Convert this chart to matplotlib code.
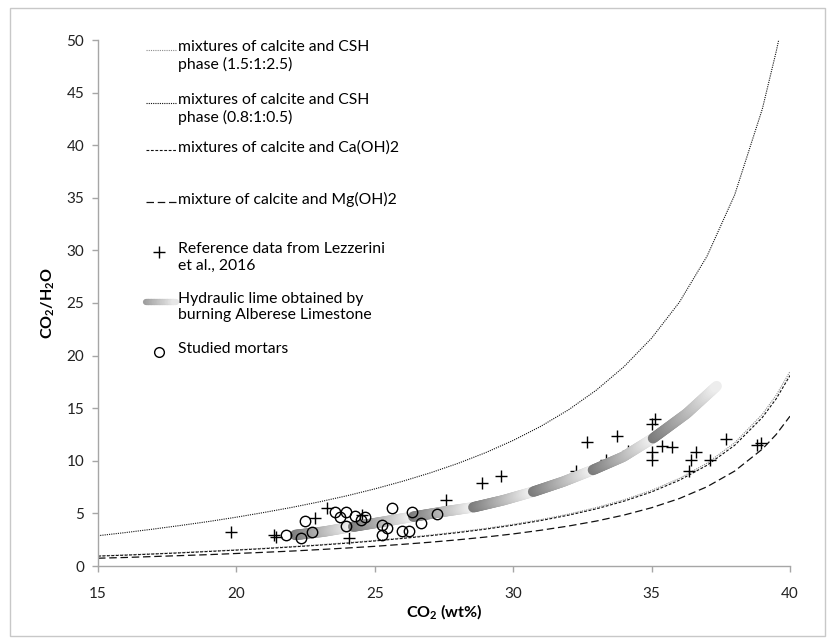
import numpy as np
import matplotlib
matplotlib.use('Agg')
import matplotlib.pyplot as plt
from matplotlib.collections import LineCollection
from matplotlib.lines import Line2D
from matplotlib.patches import Rectangle

plt.rcParams['font.family'] = ['Lato', 'DejaVu Sans']
plt.rcParams['mathtext.fontset'] = 'custom'
plt.rcParams['mathtext.rm'] = 'Lato'
plt.rcParams['mathtext.bf'] = 'Lato:bold'

# ---------------- data ----------------
mix_x = [15, 16, 17, 18, 19, 20, 21, 22, 23, 24, 25, 26, 27, 28, 29, 30,
         31, 32, 33, 34, 35, 36, 37, 38, 39, 39.5, 40]
csh15_y = [0.96, 1.06, 1.16, 1.28, 1.41, 1.54, 1.69, 1.85, 2.02, 2.22, 2.43, 2.67,
           2.94, 3.24, 3.57, 3.96, 4.41, 4.93, 5.55, 6.29, 7.19, 8.32, 9.77, 11.71,
           14.42, 16.23, 18.49]
caoh_y = [0.94, 1.03, 1.14, 1.25, 1.38, 1.51, 1.65, 1.81, 1.98, 2.17, 2.38, 2.62,
          2.88, 3.17, 3.50, 3.88, 4.32, 4.83, 5.43, 6.16, 7.04, 8.15, 9.57, 11.47,
          14.12, 15.89, 18.11]
mgoh_y = [0.74, 0.81, 0.90, 0.99, 1.08, 1.19, 1.30, 1.42, 1.56, 1.71, 1.87, 2.06,
          2.26, 2.49, 2.75, 3.05, 3.40, 3.80, 4.27, 4.84, 5.54, 6.41, 7.53, 9.02,
          11.11, 12.50, 14.24]
csh08_x = [15, 16, 17, 18, 19, 20, 21, 22, 23, 24, 25, 26, 27, 28, 29, 30,
           31, 32, 33, 34, 35, 36, 37, 38, 39, 39.5, 39.6]
csh08_y = [2.88, 3.18, 3.51, 3.86, 4.23, 4.64, 5.09, 5.57, 6.10, 6.68, 7.33, 8.05,
           8.85, 9.75, 10.77, 11.94, 13.28, 14.85, 16.71, 18.94, 21.66, 25.06,
           29.44, 35.27, 43.44, 48.89, 50.1]

ref_x = [19.8, 21.37, 21.43, 22.84, 23.28, 24.05, 24.55, 27.57, 28.86, 29.56,
         32.27, 32.65, 33.35, 33.74, 34.16, 35.0, 35.12, 35.02, 35.02, 35.36,
         35.72, 36.36, 36.44, 36.6, 37.1, 37.69, 38.8, 38.97]
ref_y = [3.2, 2.95, 2.8, 4.53, 5.5, 2.65, 4.85, 6.27, 7.92, 8.58,
         9.06, 11.82, 10.08, 12.39, 10.96, 13.5, 13.94, 10.87, 10.08, 11.4,
         11.34, 9.06, 10.08, 10.87, 10.08, 12.04, 11.5, 11.66]

lime_x = [22.12, 23.14, 24.22, 25.31, 26.39, 27.47, 28.56, 29.64, 30.72, 31.81,
          32.88, 33.98, 35.05, 36.27, 37.35]
lime_y = [2.95, 3.26, 3.74, 4.21, 4.69, 5.16, 5.58, 6.25, 7.06, 8.02,
          9.13, 10.39, 12.14, 14.5, 17.1]

mort_x = [21.79, 22.32, 22.48, 22.72, 23.56, 23.74, 23.96, 23.96, 24.28, 24.49,
          24.65, 25.25, 25.25, 25.43, 25.63, 25.97, 26.25, 26.34, 26.67, 27.26]
mort_y = [2.95, 2.63, 4.28, 3.26, 5.16, 4.63, 5.16, 3.8, 4.75, 4.37,
          4.63, 3.9, 2.95, 3.58, 5.54, 3.33, 3.33, 5.1, 4.06, 4.91]

labels = ['mixtures of calcite and CSH\nphase (1.5:1:2.5)',
          'mixtures of calcite and CSH\nphase (0.8:1:0.5)',
          'mixtures of calcite and Ca(OH)2',
          'mixture of calcite and Mg(OH)2',
          'Reference data from Lezzerini\net al., 2016',
          'Hydraulic lime obtained by\nburning Alberese Limestone',
          'Studied mortars']

x_ticks = [15, 20, 25, 30, 35, 40]
y_ticks = [0, 5, 10, 15, 20, 25, 30, 35, 40, 45, 50]

# ---------------- figure ----------------
W, H = 833, 643
fig = plt.figure(figsize=(W / 100, H / 100), dpi=100)
fig.patches.append(Rectangle((10 / W, 7 / H), 815 / W, 628 / H, transform=fig.transFigure,
                             fill=False, edgecolor='#c8c8c8', lw=1.0))
ax = fig.add_axes([98 / W, 1 - 566 / H, 692 / W, 526 / H])

ax.set_xlim(15, 40)
ax.set_ylim(0, 50)
ax.set_xticks(x_ticks)
ax.set_yticks(y_ticks)
for s in ['top', 'right']:
    ax.spines[s].set_visible(False)
for s in ['left', 'bottom']:
    ax.spines[s].set_color('#a6a6a6')
    ax.spines[s].set_linewidth(1.0)
ax.tick_params(direction='out', length=4, width=1.0, color='#a6a6a6',
               labelsize=11, labelcolor='#222222')
ax.tick_params(axis='x', pad=11)
ax.tick_params(axis='y', pad=6)

ls_csh15 = dict(color='#8c8c8c', lw=0.8, ls=(0, (1, 1)))
ls_csh08 = dict(color='#111111', lw=0.8, ls=(0, (1, 1)))
ls_caoh = dict(color='#111111', lw=0.8, ls=(0, (2.5, 1.5)))
ls_mgoh = dict(color='#111111', lw=0.9, ls=(0, (6, 3)))

ax.plot(mix_x, csh15_y, **ls_csh15, zorder=2)
ax.plot(csh08_x, csh08_y, **ls_csh08, zorder=2)
ax.plot(mix_x, caoh_y, **ls_caoh, zorder=2)
ax.plot(mix_x, mgoh_y, **ls_mgoh, zorder=2)

ax.plot(ref_x, ref_y, ls='none', marker='+', ms=8.5, mew=1.0, color='black', zorder=3,
        clip_on=False)

# gradient band: each pair of points forms one segment that fades dark -> light
dark, light = 0.48, 0.94
for i in range(0, len(lime_x) - 1, 2):
    px = lime_x[i:i + 3]
    py = lime_y[i:i + 3]
    t = np.linspace(0, 1, 40)
    tp = np.linspace(0, 1, len(px))
    xs = np.interp(t, tp, px)
    ys = np.interp(t, tp, py)
    pts = np.column_stack([xs, ys]).reshape(-1, 1, 2)
    segs = np.concatenate([pts[:-1], pts[1:]], axis=1)
    g = dark + (light - dark) * t[:-1]
    cols = [(v, v, v) for v in g]
    lc = LineCollection(segs, colors=cols, linewidths=7.5, capstyle='round', zorder=4)
    ax.add_collection(lc)

ax.plot(mort_x, mort_y, ls='none', marker='o', ms=7.5, mew=1.0, mec='black',
        mfc='none', zorder=5)

# axis labels
ax.set_xlabel(r'$\mathbf{CO_2}$ (wt%)', fontweight='bold', fontsize=11.5, va='center')
ax.xaxis.set_label_coords(0.5, (566 - 612) / 526)
ax.set_ylabel(r'$\mathbf{CO_2}$/$\mathbf{H_2}$O', fontweight='bold', fontsize=11.5, va='center')
ax.yaxis.set_label_coords((48 - 98) / 692, 0.5)

# legend (drawn in axes fraction)
def fx(px):
    return (px - 98) / 692

def fy(py):
    return (566 - py) / 526

rows = [50, 103, 150, 202, 252, 302, 352]
hx0, hx1, hmid, tx = 146, 176, 159, 178
kinds = ['csh15', 'csh08', 'caoh', 'mgoh', 'ref', 'lime', 'mort']
styles = {'csh15': ls_csh15, 'csh08': ls_csh08, 'caoh': ls_caoh, 'mgoh': ls_mgoh}
for kind, lab, r in zip(kinds, labels, rows):
    if kind in styles:
        ax.add_line(Line2D([fx(hx0), fx(hx1)], [fy(r), fy(r)], transform=ax.transAxes,
                           **styles[kind]))
    elif kind == 'ref':
        ax.add_line(Line2D([fx(hmid)], [fy(r)], transform=ax.transAxes, ls='none',
                           marker='+', ms=8.5, mew=1.0, color='black'))
    elif kind == 'mort':
        ax.add_line(Line2D([fx(hmid)], [fy(r)], transform=ax.transAxes, ls='none',
                           marker='o', ms=7.0, mew=1.0, mec='black', mfc='none'))
    elif kind == 'lime':
        t = np.linspace(0, 1, 20)
        xs = fx(hx0) + (fx(hx1) - fx(hx0)) * t
        pts = np.column_stack([xs, np.full_like(xs, fy(r))]).reshape(-1, 1, 2)
        segs = np.concatenate([pts[:-1], pts[1:]], axis=1)
        g = 0.62 + 0.3 * t[:-1]
        lc = LineCollection(segs, colors=[(v, v, v) for v in g], linewidths=4.5,
                            capstyle='round', transform=ax.transAxes)
        ax.add_collection(lc)
    ax.text(fx(tx), fy(r - 10), lab, transform=ax.transAxes, ha='left', va='top',
            fontsize=11.3, linespacing=1.22, color='black')

fig.savefig('out.png', dpi=100)
